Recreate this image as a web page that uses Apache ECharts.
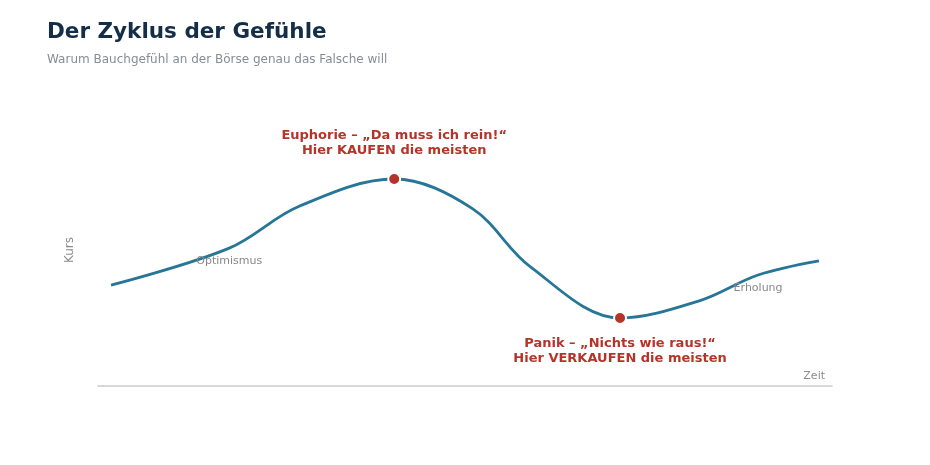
<!DOCTYPE html>
<html>
<head>
<meta charset="utf-8">
<script src="https://cdn.jsdelivr.net/npm/echarts@6/dist/echarts.min.js"></script>
<style>
  html, body { margin: 0; padding: 0; background: #fff; }
  #chart { width: 930px; height: 465px; }
</style>
</head>
<body>
<div id="chart"></div>
<script>
// Zeitachse (0–100) und Kursverlauf
const zeit = [0, 16.7, 26.5, 40, 51, 59.2, 71.9, 83.2, 91.4, 100];
const kurs = [37.1, 50.7, 66, 76.1, 65.3, 43.9, 25, 31.4, 40.8, 46];

// markierte Punkte (Index in zeit/kurs) mit Beschriftung
const hochIndex = 3;
const tiefIndex = 6;
const hochText = 'Euphorie – „Da muss ich rein!“\nHier KAUFEN die meisten';
const tiefText = 'Panik – „Nichts wie raus!“\nHier VERKAUFEN die meisten';

// Phasen-Beschriftungen
const phasenIndex = [1, 8];
const phasenText = ['Optimismus', 'Erholung'];

const font = 'DejaVu Sans';
const red = '#b5342a';

const chart = echarts.init(document.getElementById('chart'));

const option = {
  backgroundColor: '#fff',
  animation: false,
  textStyle: { fontFamily: font },
  title: {
    text: 'Der Zyklus der Gefühle',
    subtext: 'Warum Bauchgefühl an der Börse genau das Falsche will',
    left: 42,
    top: 16,
    itemGap: 11,
    textStyle: { fontFamily: font, fontSize: 21.5, fontWeight: 'bold', color: '#142e48' },
    subtextStyle: { fontFamily: font, fontSize: 12, color: '#858d95' }
  },
  grid: { left: 98, right: 98, top: 114, bottom: 79 },
  xAxis: {
    type: 'value',
    min: -1.84,
    max: 101.84,
    name: 'Zeit',
    nameLocation: 'end',
    nameGap: -7,
    nameTextStyle: {
      fontFamily: font, fontSize: 11, color: '#8c8c8c',
      align: 'right', verticalAlign: 'bottom', padding: [0, 0, 4, 0]
    },
    axisLine: { lineStyle: { color: '#cccccc', width: 1.5 } },
    axisTick: { show: false },
    axisLabel: { show: false },
    splitLine: { show: false }
  },
  yAxis: {
    type: 'value',
    min: 0,
    max: 100,
    name: 'Kurs',
    nameLocation: 'middle',
    nameGap: 22,
    nameTextStyle: { fontFamily: font, fontSize: 12, color: '#8c8c8c' },
    axisLine: { show: false },
    axisTick: { show: false },
    axisLabel: { show: false },
    splitLine: { show: false }
  },
  series: [
    {
      type: 'line',
      data: zeit.map((x, i) => [x, kurs[i]]),
      smooth: 0.35,
      symbol: 'none',
      lineStyle: { color: '#277597', width: 2.8 },
      z: 2
    },
    {
      type: 'scatter',
      symbolSize: 0,
      itemStyle: { opacity: 1 },
      data: phasenIndex.map((i, k) => ({
        value: [zeit[i], kurs[i]],
        label: { formatter: phasenText[k] }
      })),
      label: {
        show: true,
        position: 'bottom',
        distance: 8,
        fontFamily: font,
        fontSize: 11,
        color: '#888888',
        opacity: 1
      },
      silent: true,
      z: 3
    },
    {
      type: 'scatter',
      symbolSize: 12,
      itemStyle: { color: red, opacity: 1, borderColor: '#fff', borderWidth: 2 },
      data: [
        {
          value: [zeit[hochIndex], kurs[hochIndex]],
          label: { formatter: hochText, position: 'top', distance: 14 }
        },
        {
          value: [zeit[tiefIndex], kurs[tiefIndex]],
          label: { formatter: tiefText, position: 'bottom', distance: 11 }
        }
      ],
      label: {
        show: true,
        fontFamily: font,
        fontSize: 13,
        fontWeight: 'bold',
        lineHeight: 15,
        align: 'center',
        color: red,
        opacity: 1
      },
      z: 4
    }
  ]
};

chart.setOption(option);
</script>
</body>
</html>
